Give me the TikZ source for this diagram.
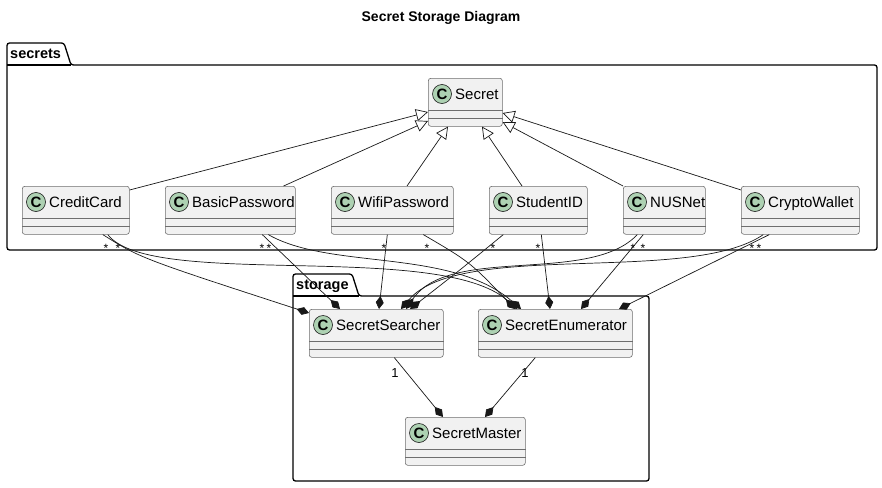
\documentclass[tikz,border=0pt]{standalone}
\usepackage{fontspec}
\setmainfont{Liberation Sans}
\usetikzlibrary{arrows.meta}
\definecolor{classFill}{HTML}{F1F1F1}
\definecolor{classLine}{HTML}{6E6E6E}
\definecolor{spotFill}{HTML}{ADD1B2}
\definecolor{edgeLine}{HTML}{181818}
\definecolor{pkgLine}{HTML}{000000}

\begin{document}
\begin{tikzpicture}[
  x=1pt, y=-1pt,
  font=\fontsize{15}{17}\selectfont,
  umlclass/.style={draw=classLine, fill=classFill, rounded corners=2.5pt, line width=0.6pt,
    minimum height=48pt, inner sep=0pt, anchor=north west},
  sepline/.style={draw=classLine, line width=0.6pt},
  spot/.style={circle, draw=edgeLine, fill=spotFill, line width=0.6pt, minimum size=19pt,
    inner sep=0pt, font=\bfseries\fontsize{15}{17}\selectfont},
  classname/.style={anchor=base west, inner sep=0pt},
  pkg/.style={draw=pkgLine, line width=1.3pt, rounded corners=2.5pt},
  pkgname/.style={font=\bfseries\fontsize{14.5}{16}\selectfont, anchor=base west, inner sep=0pt},
  isa/.style={-{Triangle[length=12pt, width=12pt, fill=white]}, draw=edgeLine, line width=0.7pt},
  owns/.style={-{Diamond[length=13pt, width=8pt]}, draw=edgeLine, line width=0.7pt},
  mult/.style={font=\fontsize{12}{14}\selectfont, inner sep=0pt},
  one/.style={font=\fontsize{13}{15}\selectfont, inner sep=0pt}
]
\useasboundingbox (0,0) rectangle (882,487);

\node[font=\bfseries\fontsize{14}{16}\selectfont] (title) at (441,18) {Secret Storage Diagram};

% packages
\draw[pkg] (7,250) -- (7,43) -- (64,43) -- (71,65) -- (877,65) -- (877,250) -- cycle;
\draw[pkg, rounded corners=0pt] (7,65) -- (71,65);
\node[pkgname] (secretsLbl) at (10,59) {secrets};

\draw[pkg] (293,481) -- (293,274) -- (352,274) -- (359,296) -- (649,296) -- (649,481) -- cycle;
\draw[pkg, rounded corners=0pt] (293,296) -- (359,296);
\node[pkgname] (storageLbl) at (296,289) {storage};

% classes
\foreach \n/\x/\y/\w/\lab in {
  secret/428/78/74/Secret,
  creditCard/22/186/107/CreditCard,
  basicPassword/165/186/130/BasicPassword,
  wifiPassword/331/186/122/WifiPassword,
  studentID/489/186/98/StudentID,
  nusNet/623/186/82/NUSNet,
  cryptoWallet/741/186/118/CryptoWallet,
  secretSearcher/309/309/134/SecretSearcher,
  secretEnumerator/478/309/154/SecretEnumerator,
  secretMaster/405/417/120/SecretMaster
}{
  \node[umlclass, minimum width=\w pt] (\n) at (\x,\y) {};
  \draw[sepline] ([yshift=-32pt]\n.north west) -- ([yshift=-32pt]\n.north east);
  \draw[sepline] ([yshift=-40pt]\n.north west) -- ([yshift=-40pt]\n.north east);
  \node[spot] (\n-spot) at ([xshift=14pt, yshift=-16pt]\n.north west) {C};
  \node[classname] (\n-name) at ([xshift=27pt, yshift=-21pt]\n.north west) {\lab};
}

% inheritance
\draw[isa] ([yshift=-4pt]creditCard.north east) -- ([yshift=-34pt]secret.north west);
\draw[isa] ([xshift=-12pt]basicPassword.north east) -- ([yshift=-43pt]secret.north west);
\draw[isa] ([xshift=76pt]wifiPassword.north west) -- ([xshift=20pt]secret.south west);
\draw[isa] ([xshift=33pt]studentID.north west) -- ([xshift=54pt]secret.south west);
\draw[isa] (nusNet.north west) -- ([yshift=-44pt]secret.north east);
\draw[isa] ([yshift=-4pt]cryptoWallet.north west) -- ([yshift=-35pt]secret.north east);

% composition into storage
\draw[owns] ([xshift=27pt]creditCard.south) .. controls (140,258) .. ([yshift=-4pt]secretSearcher.north west);
\draw[owns] ([xshift=32pt]creditCard.south) .. controls (150,290) and (440,240) .. ([xshift=39pt]secretEnumerator.north west);
\draw[owns] ([xshift=32pt]basicPassword.south) -- ([xshift=31pt]secretSearcher.north west);
\draw[owns] ([xshift=38pt]basicPassword.south) .. controls (330,270) and (450,248) .. ([xshift=43pt]secretEnumerator.north west);
\draw[owns] ([xshift=-5pt]wifiPassword.south) -- ([xshift=70pt]secretSearcher.north west);
\draw[owns] ([xshift=31pt]wifiPassword.south) .. controls (470,262) .. ([xshift=37pt]secretEnumerator.north west);
\draw[owns] ([xshift=-35pt]studentID.south) .. controls (460,270) .. ([xshift=101pt]secretSearcher.north west);
\draw[owns] ([xshift=3pt]studentID.south) -- ([xshift=72pt]secretEnumerator.north west);
\draw[owns] ([xshift=-27pt]nusNet.south) .. controls (590,285) and (450,245) .. ([xshift=97pt]secretSearcher.north west);
\draw[owns] ([xshift=-21pt]nusNet.south) -- ([xshift=103pt]secretEnumerator.north west);
\draw[owns] ([xshift=-37pt]cryptoWallet.south) .. controls (690,285) and (460,240) .. ([xshift=92pt]secretSearcher.north west);
\draw[owns] ([xshift=-31pt]cryptoWallet.south) -- ([xshift=141pt]secretEnumerator.north west);

% into master
\draw[owns] ([xshift=18pt]secretSearcher.south) -- ([xshift=38pt]secretMaster.north west);
\draw[owns] ([xshift=-20pt]secretEnumerator.south) -- ([xshift=80pt]secretMaster.north west);

% multiplicities
\foreach \sx [count=\i] in {106,118,262,269,384,427,493,538,633,643,752,759}{
  \node[mult] (star\i) at (\sx,248) {*};
}
\node[one] (oneS) at (395,373) {1};
\node[one] (oneE) at (525,373) {1};

\end{tikzpicture}
\end{document}
